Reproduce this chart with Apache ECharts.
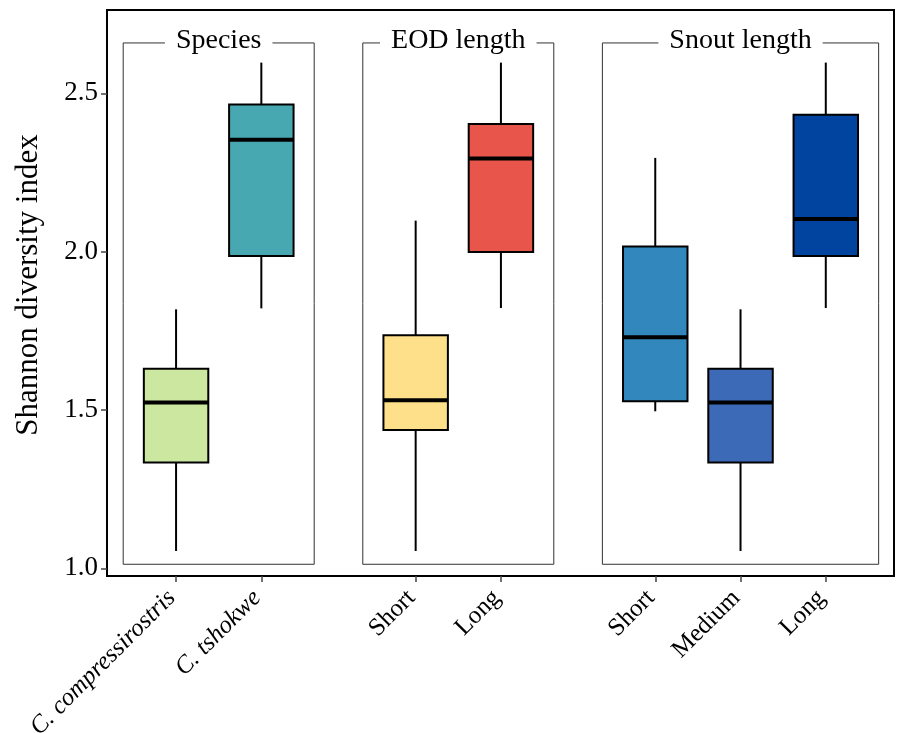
<!DOCTYPE html>
<html><head><meta charset="utf-8">
<script src="https://cdn.jsdelivr.net/npm/echarts@6/dist/echarts.min.js"></script>
<style>html,body{margin:0;padding:0;background:#fff}#c{width:900px;height:733px}</style>
</head><body><div id="c"></div>
<script>
// ---- data ----
const groupNames = ['Species', 'EOD length', 'Snout length'];
const categories = ['C. compressirostris', 'C. tshokwe', 'Short', 'Long', 'Short', 'Medium', 'Long'];
const categoryGroup = [0, 0, 1, 1, 2, 2, 2];
const italicLabel = [true, true, false, false, false, false, false];
const whiskerLow  = [1.055, 1.821, 1.055, 1.822, 1.496, 1.055, 1.822];
const quartile1   = [1.334, 1.986, 1.437, 1.999, 1.528, 1.334, 1.986];
const medians     = [1.524, 2.353, 1.531, 2.294, 1.730, 1.524, 2.103];
const quartile3   = [1.630, 2.465, 1.736, 2.403, 2.016, 1.630, 2.432];
const whiskerHigh = [1.818, 2.597, 2.098, 2.597, 2.296, 1.818, 2.597];
const yTicks = [1.0, 1.5, 2.0, 2.5];
const yTitle = 'Shannon diversity index';

// ---- styles / layout ----
const fillColors = ['#CCE79F', '#47A8B1', '#FEE08B', '#E8554A', '#3288BC', '#3D6AB6', '#0144A0'];
const FONT = '"Liberation Serif", "DejaVu Serif", serif';
const GROUP_GAP = 1.81;
const BOX_HALF = 0.378;
const PANEL_PAD = 0.62;
const PANEL_Y = [1.013, 2.659];

const positions = [];
let p = 0;
categories.forEach((c, i) => {
  if (i > 0) p += (categoryGroup[i] !== categoryGroup[i - 1]) ? GROUP_GAP : 1;
  positions.push(p);
});
const boxData = categories.map((c, i) => [positions[i], whiskerLow[i], quartile1[i], medians[i], quartile3[i], whiskerHigh[i], i]);
const panelData = groupNames.map((g, gi) => {
  const ps = positions.filter((_, i) => categoryGroup[i] === gi);
  return [Math.min(...ps) - PANEL_PAD, Math.max(...ps) + PANEL_PAD, gi];
});

const chart = echarts.init(document.getElementById('c'), null, {renderer: 'canvas'});
chart.setOption({
  animation: false,
  backgroundColor: '#fff',
  grid: {left: 107, right: 6, top: 10, bottom: 157, containLabel: false, outerBoundsMode: 'none',
    show: true, borderColor: '#000', borderWidth: 2, backgroundColor: 'transparent'},
  xAxis: {
    type: 'value', min: -0.81, max: positions[positions.length - 1] + 0.80,
    splitLine: {show: false},
    axisLine: {show: true, onZero: false, lineStyle: {color: '#000', width: 2}},
    axisTick: {show: true, customValues: positions, length: 6, lineStyle: {color: '#444', width: 1.5}},
    axisLabel: {
      customValues: positions, rotate: 45, margin: 14, padding: [0, 6, 0, 0],
      fontFamily: FONT, fontSize: 25, color: '#000',
      formatter: function (v) {
        const i = positions.findIndex(q => Math.abs(q - v) < 1e-6);
        if (i < 0) return '';
        return italicLabel[i] ? '{it|' + categories[i] + '}' : categories[i];
      },
      rich: {it: {fontStyle: 'italic', fontFamily: FONT, fontSize: 25, color: '#000'}}
    }
  },
  yAxis: {
    type: 'value', min: 0.976, max: 2.763,
    name: yTitle, nameLocation: 'middle', nameGap: 63, nameRotate: 90,
    nameTextStyle: {fontFamily: FONT, fontSize: 31, color: '#000', padding: [0, 0, 0, 16]},
    splitLine: {show: false},
    axisLine: {show: true, onZero: false, lineStyle: {color: '#000', width: 2}},
    axisTick: {show: true, customValues: yTicks, length: 6, lineStyle: {color: '#444', width: 1.5}},
    axisLabel: {
      customValues: yTicks, margin: 9,
      fontFamily: FONT, fontSize: 27, color: '#000',
      formatter: v => v.toFixed(1)
    }
  },
  series: [
    {
      type: 'custom', z: 1, silent: true,
      data: panelData,
      renderItem: function (params, api) {
        const tl = api.coord([api.value(0), PANEL_Y[1]]);
        const br = api.coord([api.value(1), PANEL_Y[0]]);
        const gi = api.value(2);
        return {
          type: 'group',
          children: [
            {type: 'rect', shape: {x: tl[0], y: tl[1], width: br[0] - tl[0], height: br[1] - tl[1]},
              style: {fill: 'none', stroke: '#333', lineWidth: 1}},
            {type: 'text', x: (tl[0] + br[0]) / 2, y: tl[1] - 2,
              style: {text: groupNames[gi], fill: '#000', font: '28px ' + FONT,
                align: 'center', verticalAlign: 'middle',
                backgroundColor: '#fff', padding: [0, 11, 0, 11]}}
          ]
        };
      }
    },
    {
      type: 'custom', z: 2, silent: true,
      data: boxData,
      renderItem: function (params, api) {
        const x = api.value(0);
        const i = api.value(6);
        const lo = api.coord([x, api.value(1)]);
        const q1 = api.coord([x, api.value(2)]);
        const md = api.coord([x, api.value(3)]);
        const q3 = api.coord([x, api.value(4)]);
        const hi = api.coord([x, api.value(5)]);
        const hw = api.size([BOX_HALF, 0])[0];
        const cx = lo[0];
        return {
          type: 'group',
          children: [
            {type: 'line', shape: {x1: cx, y1: lo[1], x2: cx, y2: q1[1]}, style: {stroke: '#000', lineWidth: 2}},
            {type: 'line', shape: {x1: cx, y1: q3[1], x2: cx, y2: hi[1]}, style: {stroke: '#000', lineWidth: 2}},
            {type: 'rect', shape: {x: cx - hw, y: q3[1], width: 2 * hw, height: q1[1] - q3[1]},
              style: {fill: fillColors[i], stroke: '#000', lineWidth: 2}},
            {type: 'line', shape: {x1: cx - hw, y1: md[1], x2: cx + hw, y2: md[1]}, style: {stroke: '#000', lineWidth: 4}}
          ]
        };
      }
    }
  ]
});
</script>
</body></html>
